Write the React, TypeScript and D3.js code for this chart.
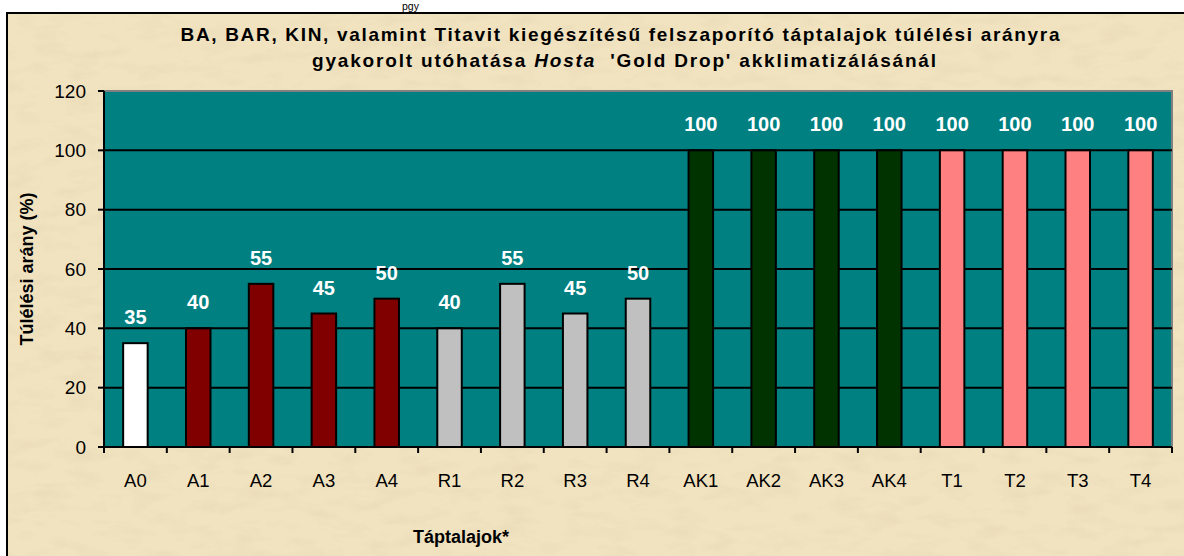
import React from "react";
import * as d3 from "d3";

const categories = ["A0", "A1", "A2", "A3", "A4", "R1", "R2", "R3", "R4", "AK1", "AK2", "AK3", "AK4", "T1", "T2", "T3", "T4"];
const values = [35, 40, 55, 45, 50, 40, 55, 45, 50, 100, 100, 100, 100, 100, 100, 100, 100];
const groups = ["K", "A", "A", "A", "A", "R", "R", "R", "R", "AK", "AK", "AK", "AK", "T", "T", "T", "T"];
const yTicks = [0, 20, 40, 60, 80, 100, 120];
const groupColors: Record<string, string> = {
  K: "#FFFFFF",
  A: "#800000",
  R: "#C0C0C0",
  AK: "#003300",
  T: "#FF8080",
};

const W = 1184;
const H = 556;
const plot = { left: 104, right: 1172, top: 91, bottom: 447 };
const FONT = "'Liberation Sans', Arial, Helvetica, sans-serif";

export default function App() {
  const x = d3
    .scaleBand<string>()
    .domain(categories)
    .range([plot.left, plot.right])
    .paddingInner(0.61)
    .paddingOuter(0.305);
  const y = d3.scaleLinear().domain([0, 120]).range([plot.bottom, plot.top]);
  const step = x.step();
  const bw = x.bandwidth();

  const boundaries = d3.range(categories.length + 1).map((i) => plot.left + i * step);

  return (
    <svg
      width={W}
      height={H}
      viewBox={`0 0 ${W} ${H}`}
      style={{ position: "absolute", left: 0, top: 0, display: "block" }}
      fontFamily={FONT}
    >
      <defs>
        <filter id="paper" x="0" y="0" width="100%" height="100%">
          <feTurbulence type="fractalNoise" baseFrequency="0.03 0.08" numOctaves={4} seed={7} result="noise" />
          <feColorMatrix
            in="noise"
            type="matrix"
            values="0 0 0 0 0.82  0 0 0 0 0.70  0 0 0 0 0.47  0 0 0 -2.4 1.35"
            result="speck"
          />
          <feComposite in="speck" in2="SourceGraphic" operator="in" />
        </filter>
      </defs>
      <rect x={0} y={0} width={W} height={H} fill="#FFFFFF" />
      {/* caption fragment above the frame */}
      <text x={402} y={9.6} fontSize={10.5} fill="#000">pgy</text>
      {/* frame background */}
      <rect x={7} y={13} width={W + 20} height={H + 20} fill="#F1E3C0" />
      <rect x={7} y={13} width={W + 20} height={H + 20} fill="#F1E3C0" filter="url(#paper)" opacity={0.65} />
      <rect x={7} y={13} width={W + 20} height={H + 20} fill="none" stroke="#000" strokeWidth={2} />

      {/* title */}
      <text x={620} y={41} fontSize={19} fontWeight="bold" textAnchor="middle" textLength={879} lengthAdjust="spacing" fill="#000">
        BA, BAR, KIN, valamint Titavit kiegészítésű felszaporító táptalajok túlélési arányra
      </text>
      <text x={624} y={67} fontSize={19} fontWeight="bold" textAnchor="middle" textLength={624} lengthAdjust="spacing" fill="#000" xmlSpace="preserve">
        <tspan>gyakorolt utóhatása </tspan>
        <tspan fontStyle="italic">Hosta</tspan>
        <tspan>{"\u00A0 'Gold Drop' akklimatizálásánál"}</tspan>
      </text>

      {/* plot area */}
      <rect x={plot.left} y={plot.top} width={plot.right - plot.left} height={plot.bottom - plot.top} fill="#008080" />
      <path
        d={`M${plot.left},${plot.top} H${plot.right} V${plot.bottom}`}
        fill="none"
        stroke="#808080"
        strokeWidth={2}
      />
      {yTicks
        .filter((t) => t > 0 && t < 120)
        .map((t) => (
          <line key={t} x1={plot.left} x2={plot.right} y1={y(t)} y2={y(t)} stroke="#000" strokeWidth={2} />
        ))}

      {/* bars */}
      {categories.map((c, i) => (
        <rect
          key={c}
          x={x(c)}
          y={y(values[i])}
          width={bw}
          height={y(0) - y(values[i])}
          fill={groupColors[groups[i]]}
          stroke="#000"
          strokeWidth={2}
        />
      ))}

      {/* data labels */}
      {categories.map((c, i) => (
        <text
          key={c}
          x={(x(c) as number) + bw / 2}
          y={y(values[i]) - 19}
          fontSize={20}
          fontWeight="bold"
          fill="#FFFFFF"
          textAnchor="middle"
        >
          {values[i]}
        </text>
      ))}

      {/* axes */}
      <line x1={plot.left} x2={plot.left} y1={plot.top} y2={plot.bottom} stroke="#000" strokeWidth={2} />
      <line x1={plot.left} x2={plot.right} y1={plot.bottom} y2={plot.bottom} stroke="#000" strokeWidth={2} />
      {yTicks.map((t) => (
        <g key={t}>
          <line x1={plot.left - 6} x2={plot.left} y1={y(t)} y2={y(t)} stroke="#000" strokeWidth={2} />
          <text x={86} y={y(t)} dy="0.35em" fontSize={19} textAnchor="end" fill="#000">
            {t}
          </text>
        </g>
      ))}
      {boundaries.map((bx, i) => (
        <line key={i} x1={bx} x2={bx} y1={plot.bottom} y2={plot.bottom + 6} stroke="#000" strokeWidth={2} />
      ))}
      {categories.map((c) => (
        <text key={c} x={(x(c) as number) + bw / 2} y={487} fontSize={18.5} textAnchor="middle" fill="#000">
          {c}
        </text>
      ))}

      {/* axis titles */}
      <text x={461} y={543} fontSize={18} fontWeight="bold" textAnchor="middle" fill="#000">
        Táptalajok*
      </text>
      <text
        transform={`translate(33, ${(plot.top + plot.bottom) / 2}) rotate(-90)`}
        fontSize={18}
        fontWeight="bold"
        textAnchor="middle"
        fill="#000"
      >
        Túlélési arány (%)
      </text>
    </svg>
  );
}
